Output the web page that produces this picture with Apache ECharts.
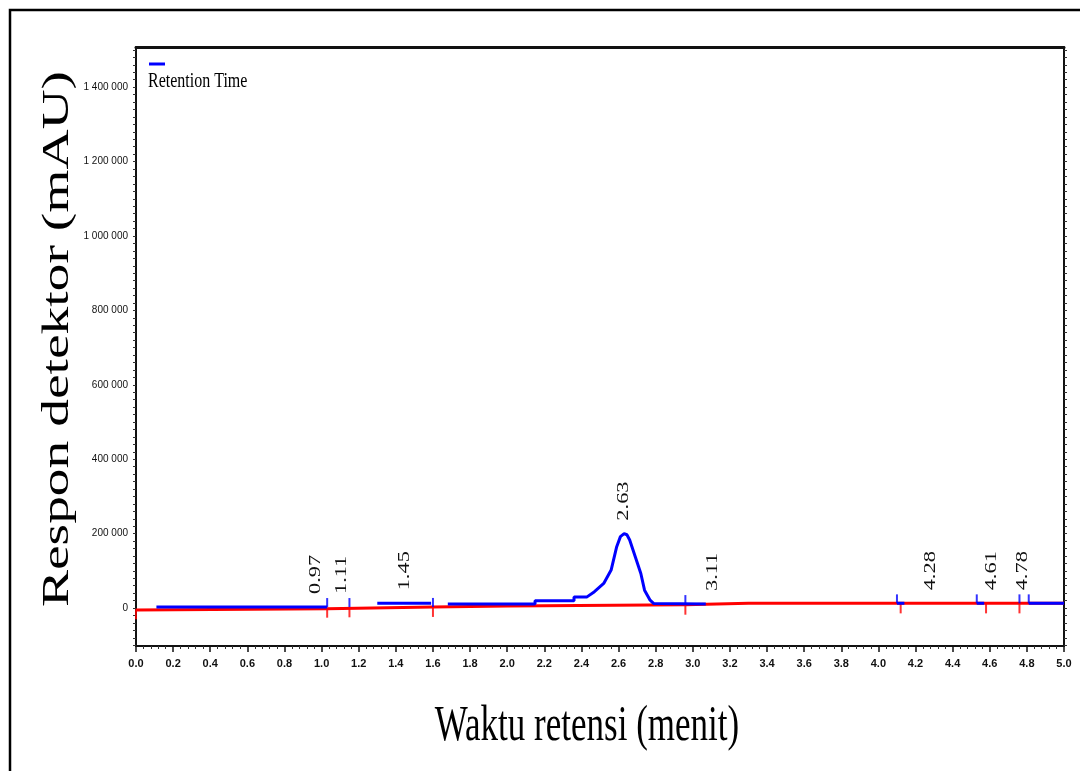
<!DOCTYPE html>
<html>
<head>
<meta charset="utf-8">
<script src="https://cdn.jsdelivr.net/npm/echarts@6/dist/echarts.min.js"></script>
<style>
  html, body { margin: 0; padding: 0; background: #fff; }
  #chart { width: 1080px; height: 771px; }
</style>
</head>
<body>
<div id="chart"></div>
<script>
// Detector signal (blue), segmented; null marks a break in the trace
const sigTime  = [0.11, 1.03, null, 1.30, 1.59, null,
                  1.68, 2.15, 2.15, 2.36, 2.36, 2.43, 2.43, 2.47, 2.52, 2.56, 2.59, 2.61, 2.63,
                  2.645, 2.66, 2.69, 2.72, 2.74, 2.77, 2.79, 2.80, 3.07, null,
                  4.10, 4.14, null, 4.53, 4.57, null, 4.81, 5.00];
const sigValue = [2700, 2700, null, 12600, 12600, null,
                  11000, 11000, 19600, 19600, 30000, 30000, 33000, 44000, 66000, 102000, 165000, 192000, 200000,
                  197000, 183000, 138000, 93000, 48000, 21000, 12000, 10700, 10700, null,
                  12600, 12600, null, 12600, 12600, null, 12600, 12600];

// Integration baseline (red)
const baseTime  = [0.00, 1.03, 1.60, 2.00, 2.96, 3.30, 5.00];
const baseValue = [-5000, -2000, 3000, 5500, 9000, 12600, 12600];

// Peak start/end markers
const peakMarkTime  = [1.03, 1.15, 1.60, 2.96, 4.10, 4.53, 4.76, 4.81];
const peakMarkValue = [2700, 2700, 3000, 10700, 12600, 12600, 12600, 12600];
const baseMarkTime  = [0.00, 1.03, 1.15, 1.60, 2.96, 4.12, 4.58, 4.76];
const baseMarkValue = [-3000, 1000, 2000, 3000, 9000, 12600, 12600, 12600];

// Retention times and signal level under each label
const retTimes   = [0.97, 1.11, 1.45, 2.63, 3.11, 4.28, 4.61, 4.78];
const retHeights = [2700, 2700, 12600, 200000, 10700, 12600, 12600, 12600];

// Axis ticks
const xTicks = { min: 0, max: 5, step: 0.2 };
const yLabelValues = [0, 200000, 400000, 600000, 800000, 1000000, 1200000, 1400000];
const yRange = { min: -102000, max: 1508000, minorStep: 20000 };

const yTickValues = [];
for (let v = -100000; v <= 1500000; v += yRange.minorStep) yTickValues.push(v);

const spaced = v => String(v).replace(/\B(?=(\d{3})+(?!\d))/g, ' ');

const signalData = sigTime.map((t, i) => t === null ? ['-', '-'] : [t, sigValue[i]]);
const baseData = baseTime.map((t, i) => [t, baseValue[i]]);
const peakMarks = peakMarkTime.map((t, i) => [t, peakMarkValue[i]]);
const baseMarks = baseMarkTime.map((t, i) => [t, baseMarkValue[i]]);
const labelData = retTimes.map((t, i) => [t, retHeights[i]]);

const chart = echarts.init(document.getElementById('chart'));

const tickFont = { fontFamily: 'Liberation Sans', color: '#111' };

chart.setOption({
  backgroundColor: '#fff',
  animation: false,
  grid: { left: 136, right: 16, top: 47, bottom: 125, show: false },
  xAxis: [{
    type: 'value',
    min: xTicks.min, max: xTicks.max, interval: xTicks.step,
    axisLine: { show: true, onZero: false, lineStyle: { color: '#111', width: 2 } },
    axisTick: { show: true, length: 6, lineStyle: { color: '#111', width: 1.5 } },
    minorTick: { show: true, splitNumber: 5, length: 3, lineStyle: { color: '#333', width: 1 } },
    axisLabel: { ...tickFont, fontSize: 11, fontWeight: 'bold', margin: 12,
                 formatter: v => v.toFixed(1) },
    splitLine: { show: false }
  }, {
    type: 'value', position: 'top',
    min: xTicks.min, max: xTicks.max,
    axisLine: { show: true, onZero: false, lineStyle: { color: '#111', width: 3 } },
    axisTick: { show: false }, axisLabel: { show: false }, splitLine: { show: false }
  }],
  yAxis: [{
    type: 'value',
    min: yRange.min, max: yRange.max,
    axisLine: { show: true, onZero: false, lineStyle: { color: '#111', width: 2 } },
    axisTick: { show: true, length: 3, customValues: yTickValues, lineStyle: { color: '#333', width: 1 } },
    axisLabel: { ...tickFont, fontSize: 10, margin: 8, customValues: yLabelValues, formatter: spaced },
    splitLine: { show: false }
  }, {
    type: 'value', position: 'right',
    min: yRange.min, max: yRange.max,
    axisLine: { show: true, onZero: false, lineStyle: { color: '#111', width: 2 } },
    axisTick: { show: true, length: 3, customValues: yTickValues, lineStyle: { color: '#333', width: 1 } },
    axisLabel: { show: false },
    splitLine: { show: false }
  }],
  series: [
    {
      name: 'Baseline', type: 'line', data: baseData, showSymbol: false, z: 2,
      lineStyle: { color: '#ff0000', width: 3 }
    },
    {
      name: 'Signal', type: 'line', data: signalData, showSymbol: false, connectNulls: false, z: 3,
      lineStyle: { color: '#0000ff', width: 3 }
    },
    {
      name: 'Baseline marks', type: 'scatter', data: baseMarks, z: 2,
      symbol: 'rect', symbolSize: [2, 10], symbolOffset: [0, 5],
      itemStyle: { color: '#ff0000' }
    },
    {
      name: 'Peak marks', type: 'scatter', data: peakMarks, z: 4,
      symbol: 'rect', symbolSize: [2, 9], symbolOffset: [0, -4.5],
      itemStyle: { color: '#0000ff' }
    },
    {
      name: 'Retention labels', type: 'custom', data: labelData, z: 5, clip: false,
      renderItem: (params, api) => {
        const p = api.coord([api.value(0), api.value(1)]);
        return {
          type: 'text',
          x: p[0], y: p[1] - 13,
          rotation: Math.PI / 2,
          scaleX: 1.4,
          style: {
            text: retTimes[params.dataIndex].toFixed(2),
            fontFamily: 'Liberation Serif', fontSize: 16, fill: '#111',
            align: 'left', verticalAlign: 'middle'
          }
        };
      }
    }
  ],
  graphic: [
    {
      type: 'rect', z: -1,
      shape: { x: 10, y: 10, width: 1200, height: 900 },
      style: { fill: null, stroke: '#000', lineWidth: 2.5 }
    },
    {
      type: 'line',
      shape: { x1: 149, y1: 64, x2: 165, y2: 64 },
      style: { stroke: '#0000ff', lineWidth: 3 }
    },
    {
      type: 'text', x: 148, y: 82, scaleY: 1.25,
      style: { text: 'Retention Time', fontFamily: 'Liberation Serif', fontSize: 16,
               fill: '#000', align: 'left', verticalAlign: 'middle' }
    },
    {
      type: 'text', x: 58, y: 339, rotation: Math.PI / 2, scaleX: 1.46,
      style: { text: 'Respon detektor (mAU)', fontFamily: 'Liberation Serif', fontSize: 38,
               fill: '#000', align: 'center', verticalAlign: 'middle' }
    },
    {
      type: 'text', x: 587, y: 727, scaleY: 1.42,
      style: { text: 'Waktu retensi (menit)', fontFamily: 'Liberation Serif', fontSize: 35,
               fill: '#000', align: 'center', verticalAlign: 'middle' }
    }
  ]
});
</script>
</body>
</html>
